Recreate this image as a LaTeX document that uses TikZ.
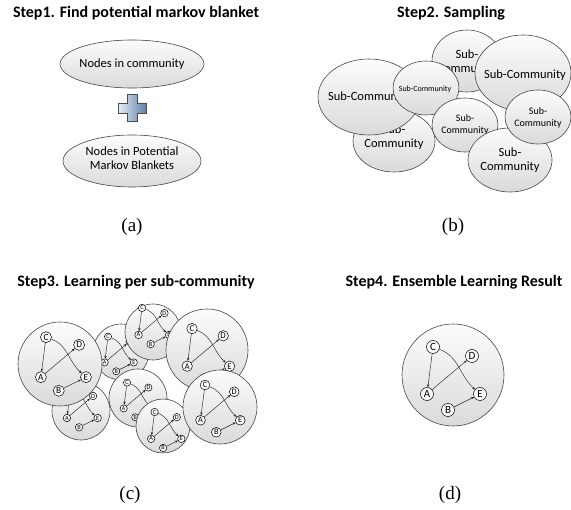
\documentclass[tikz,border=0pt]{standalone}
\usepackage{fontspec}
\setmainfont{Carlito}
\newfontfamily\tmsfont{Liberation Serif}
\usetikzlibrary{shapes.geometric,arrows.meta}
\definecolor{edgegray}{RGB}{70,70,70}
\definecolor{fillA}{RGB}{252,252,252}
\definecolor{fillB}{RGB}{218,218,218}
\definecolor{plusL}{RGB}{228,236,246}
\definecolor{plusR}{RGB}{92,126,168}
\tikzset{
  ttl/.style={font=\fontsize{16}{18}\selectfont\bfseries, inner sep=0pt},
  sublbl/.style={font=\tmsfont\fontsize{19}{22}\selectfont, inner sep=0pt},
  ell/.style={ellipse, draw=edgegray, line width=0.6pt, top color=fillA, bottom color=fillB, inner sep=0pt},
  bigcirc/.style={circle, draw=edgegray, line width=0.6pt, top color=fillA, bottom color=fillB, inner sep=0pt},
  txt/.style={align=center, inner sep=0pt, font=\fontsize{12.5}{14}\selectfont},
  txtm/.style={align=center, inner sep=0pt, font=\fontsize{10}{12}\selectfont},
  txts/.style={align=center, inner sep=0pt, font=\fontsize{8}{10}\selectfont},
  bnode/.style={circle, draw=black, fill=gray!4, inner sep=0pt, minimum size=13pt, font=\fontsize{11}{11}\selectfont, line width=0.5pt},
  bedge/.style={draw=black!85, line width=0.45pt, -{Stealth[length=3pt,width=2.4pt]}},
  plusshape/.style={draw=gray!60!black, line width=0.5pt, left color=plusL, right color=plusR},
}
\newcommand\bnet[4]{%
  \begin{scope}[shift={(#2,#3)}, scale=#4, transform shape]
    \node[bnode] (#1C) at (-20,-28) {C};
    \node[bnode] (#1D) at (19,-19) {D};
    \node[bnode] (#1A) at (-26,19) {A};
    \node[bnode] (#1E) at (27,19) {E};
    \node[bnode] (#1B) at (-5,35) {B};
    \draw[bedge] (#1C) -- (#1A);
    \draw[bedge] (#1A) -- (#1D);
    \draw[bedge] (#1C) to[out=-20,in=138] (#1E);
    \draw[bedge] (#1B) -- (#1E);
  \end{scope}}
\begin{document}
\begin{tikzpicture}[x=1pt,y=-1pt]
\useasboundingbox (0,0) rectangle (571,510);
% ---------- (a)
\node[ttl] (t1) at (136,13) {Step1. Find potential markov blanket};
\node[ell, minimum width=144pt, minimum height=48pt] (a1) at (132,64) {};
\node[txt] (a1t) at (a1) {Nodes in community};
\draw[plusshape] (127.5,94.5) -- (137.5,94.5) -- (137.5,103) -- (146.5,103) -- (146.5,113) -- (137.5,113) -- (137.5,121.5) -- (127.5,121.5) -- (127.5,113) -- (118.5,113) -- (118.5,103) -- (127.5,103) -- cycle;
\node[ell, minimum width=138pt, minimum height=52pt] (a2) at (132,161) {};
\node[txt] (a2t) at (132,158) {Nodes in Potential\\Markov Blankets};
\node[sublbl] (la) at (132,227) {(a)};
% ---------- (b)
\node[ttl] (t2) at (451,13) {Step2. Sampling};
\node[ell, minimum width=82pt, minimum height=62pt] (e5) at (394,141) {};
\node[txt] (e5t) at (394,137) {Sub-\\Community};
\node[ell, minimum width=102pt, minimum height=76pt] (e1) at (369,97) {};
\node[txt] (e1t) at (369,97) {Sub-Community};
\node[ell, minimum width=70pt, minimum height=62pt] (e3) at (467,61) {};
\node[txt] (e3t) at (467,62) {Sub-\\Community};
\node[ell, minimum width=66pt, minimum height=54pt] (e2) at (426,88) {};
\node[txts] (e2t) at (425,89) {Sub-Community};
\node[ell, minimum width=96pt, minimum height=76pt] (e4) at (523,73) {};
\node[txt] (e4t) at (525,75) {Sub-Community};
\node[ell, minimum width=66pt, minimum height=54pt] (e6) at (465,125) {};
\node[txtm] (e6t) at (465,125) {Sub-\\Community};
\node[ell, minimum width=84pt, minimum height=64pt] (e7) at (510,160) {};
\node[txt] (e7t) at (510,160) {Sub-\\Community};
\node[ell, minimum width=66pt, minimum height=54pt] (e8) at (538,117) {};
\node[txtm] (e8t) at (538,118) {Sub-\\Community};
\node[sublbl] (lb) at (453,227) {(b)};
% ---------- (c)
\node[ttl] (t3) at (136,282) {Step3. Learning per sub-community};
\node[bigcirc, minimum size=56pt] (c2) at (121,352) {};
\bnet{c2}{119}{352}{0.55}
\node[bigcirc, minimum size=58pt] (c5) at (81,411) {};
\bnet{c5}{82}{407}{0.58}
\node[bigcirc, minimum size=84pt] (c1) at (60,364) {};
\bnet{c1}{63}{361}{0.85}
\node[bigcirc, minimum size=56pt] (c3) at (153,332) {};
\bnet{c3}{153.5}{324}{0.575}
\node[bigcirc, minimum size=82pt] (c4) at (207,350) {};
\bnet{c4}{208}{351}{0.8}
\node[bigcirc, minimum size=58pt] (c6) at (138,398) {};
\bnet{c6}{138}{398}{0.55}
\node[bigcirc, minimum size=54pt] (c7) at (163,426) {};
\bnet{c7}{166}{428}{0.57}
\node[bigcirc, minimum size=74pt] (c8) at (220,407) {};
\bnet{c8}{220}{406}{0.75}
\node[sublbl] (lc) at (130,495) {(c)};
% ---------- (d)
\node[ttl] (t4) at (454,282) {Step4. Ensemble Learning Result};
\node[bigcirc, minimum size=102pt] (d0) at (453,375) {};
\bnet{d}{453}{375}{1}
\node[sublbl] (ld) at (450,495) {(d)};
\end{tikzpicture}
\end{document}
